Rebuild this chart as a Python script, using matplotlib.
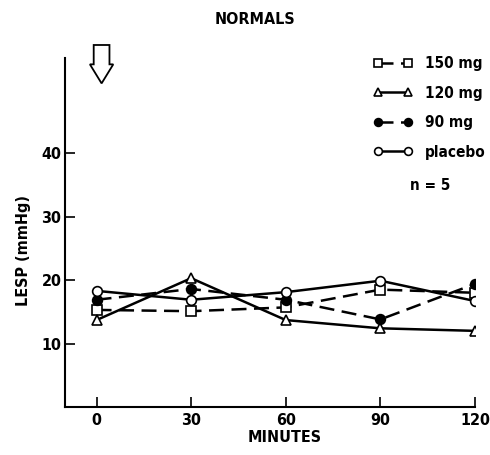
import matplotlib
matplotlib.use("Agg")
import matplotlib.pyplot as plt
from matplotlib.patches import Polygon

plt.rcParams['font.family'] = ['DejaVu Sans']
plt.rcParams['font.stretch'] = 'condensed'
plt.rcParams['font.weight'] = 'bold'

minutes = [0, 30, 60, 90, 120]
mg150 = [15.3, 15.1, 15.7, 18.5, 18.0]
mg120 = [13.7, 20.3, 13.7, 12.4, 12.0]
mg90 = [16.9, 18.6, 16.9, 13.8, 19.4]
placebo = [18.3, 16.9, 18.1, 19.9, 16.7]
labels = ['150 mg', '120 mg', '90 mg', 'placebo']
xticks = [0, 30, 60, 90, 120]
yticks = [10, 20, 30, 40]

W, H = 490, 455
fig = plt.figure(figsize=(W / 100, H / 100), dpi=100)
L, R, B, T = 65, 475, 407, 58
ax = fig.add_axes([L / W, (H - B) / H, (R - L) / W, (B - T) / H])

FS = 11.5
LFS = 11
lw = 1.8
dash = (0, (6, 3))
ms = 7
ax.plot(minutes, mg150, color='black', lw=lw, linestyle=dash, marker='s', ms=6.5,
        mfc='white', mec='black', mew=1.2, label=labels[0], zorder=3)
ax.plot(minutes, mg120, color='black', lw=lw, linestyle='-', marker='^', ms=7.5,
        mfc='white', mec='black', mew=1.2, label=labels[1], zorder=3)
ax.plot(minutes, mg90, color='black', lw=lw, linestyle=dash, marker='o', ms=ms,
        mfc='black', mec='black', mew=1.2, label=labels[2], zorder=4)
ax.plot(minutes, placebo, color='black', lw=lw, linestyle='-', marker='o', ms=ms,
        mfc='white', mec='black', mew=1.2, label=labels[3], zorder=4)

ax.set_xlim(-10, 120)
ax.set_ylim(0, 55)
ax.set_xticks(xticks)
ax.set_yticks(yticks)
ax.spines['top'].set_visible(False)
ax.spines['right'].set_visible(False)
for s in ('left', 'bottom'):
    ax.spines[s].set_linewidth(1.5)
ax.tick_params(axis='both', direction='in', length=7.5, width=1.2, labelsize=FS)
ax.tick_params(axis='x', pad=4.0)
ax.tick_params(axis='y', pad=2.5)
for lab in ax.get_xticklabels() + ax.get_yticklabels():
    lab.set_fontweight('bold')

ax.set_xlabel('MINUTES', fontsize=FS, fontweight='bold')
ax.xaxis.set_label_coords((285 - L) / (R - L), -(437 - B) / (B - T))
ax.xaxis.label.set_va('center')
ax.set_ylabel('LESP (mmHg)', fontsize=FS, fontweight='bold')
ax.yaxis.set_label_coords(-(L - 23) / (R - L), (B - 250) / (B - T))
ax.yaxis.label.set_va('center')

fig.text(255 / W, 1 - 20 / H, 'NORMALS', ha='center', va='center', fontsize=FS, fontweight='bold')

# hollow arrow
cx = 1.6
arrow = Polygon([[cx - 2.5, 57.05], [cx + 2.5, 57.05], [cx + 2.5, 54.0], [cx + 3.7, 54.0],
                 [cx, 51.0], [cx - 3.7, 54.0], [cx - 2.5, 54.0]], closed=True,
                fill=False, edgecolor='black', lw=1.3, clip_on=False)
ax.add_patch(arrow)

leg = ax.legend(loc='upper left', bbox_to_anchor=(373 / W, 1 - 56 / H),
                bbox_transform=fig.transFigure, frameon=False, fontsize=LFS,
                handlelength=2.6, handletextpad=0.8, labelspacing=0.95,
                borderpad=0, borderaxespad=0, numpoints=2, markerscale=0.8)
for t in leg.get_texts():
    t.set_fontweight('bold')

fig.text(430 / W, 1 - 185 / H, 'n = 5', ha='center', va='center', fontsize=LFS, fontweight='bold')

fig.savefig('out.png', dpi=100)
